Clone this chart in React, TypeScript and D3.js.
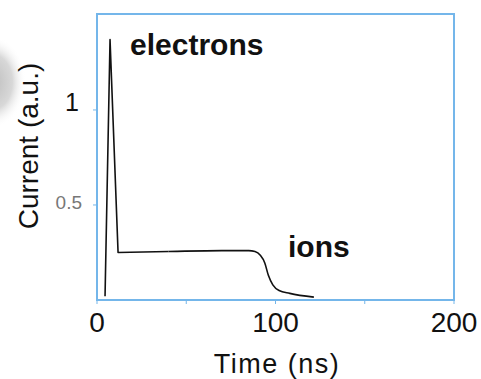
import React from "react";
import { scaleLinear, line, curveMonotoneX } from "d3";

const times = [4.5, 7.3, 11.8, 40, 70, 85, 88.5, 91.5, 94, 96, 98.5, 102, 108, 121.5];
const currents = [0.02, 1.37, 0.25, 0.255, 0.26, 0.26, 0.255, 0.235, 0.195, 0.13, 0.08, 0.05, 0.035, 0.015];
const xTicks = [0, 100, 200];
const xMinorTicks = [0, 50, 100, 150, 200];
const yTicks = [1, 0.5];

const W = 481;
const H = 379;
const margin = { left: 97, top: 14, right: 27, bottom: 79 };
const frameColor = "#74b6ea";
const font = "Liberation Sans, Arial, Helvetica, sans-serif";

export default function App() {
  const x = scaleLinear().domain([0, 200]).range([margin.left, W - margin.right]);
  const y = scaleLinear().domain([0, 1.505]).range([H - margin.bottom, margin.top]);

  const pts = times.map((t, i) => [t, currents[i]] as [number, number]);
  // sharp pulse, then smooth ion tail
  const spike = line<[number, number]>().x(d => x(d[0])).y(d => y(d[1]));
  const tail = line<[number, number]>().x(d => x(d[0])).y(d => y(d[1])).curve(curveMonotoneX);

  return (
    <svg width={W} height={H} style={{ position: "fixed", left: 0, top: 0, background: "#fff" }}>
      <defs>
        <radialGradient id="blob">
          <stop offset="0%" stopColor="#bdbdbd" />
          <stop offset="60%" stopColor="#d8d8d8" />
          <stop offset="100%" stopColor="#fff" stopOpacity={0} />
        </radialGradient>
      </defs>
      <ellipse cx={-8} cy={82} rx={34} ry={46} fill="url(#blob)" />

      {/* frame */}
      <rect
        x={x(0)}
        y={margin.top}
        width={x(200) - x(0)}
        height={y(0) - margin.top}
        fill="none"
        stroke={frameColor}
        strokeWidth={2}
      />
      {xMinorTicks.map(t => (
        <line key={t} x1={x(t)} x2={x(t)} y1={y(0)} y2={y(0) + 4} stroke={frameColor} strokeWidth={1} />
      ))}
      {yTicks.map(t => (
        <line key={t} x1={x(0) - 4} x2={x(0)} y1={y(t)} y2={y(t)} stroke={frameColor} strokeWidth={1} />
      ))}

      {/* x tick labels */}
      {xTicks.map(t => (
        <text key={t} x={x(t)} y={y(0) + 32} textAnchor="middle" fontFamily={font} fontSize={28} fill="#111">
          {t}
        </text>
      ))}
      {/* y tick labels */}
      <text x={79} y={y(1) + 1} textAnchor="end" fontFamily={font} fontSize={25} fill="#111">
        1
      </text>
      <text x={82} y={y(0.5) + 4} textAnchor="end" fontFamily={font} fontSize={19} fill="#777">
        0.5
      </text>

      <text x={277} y={373} textAnchor="middle" fontFamily={font} fontSize={27} fill="#111" letterSpacing={1.5}>
        Time (ns)
      </text>
      <text
        transform={`translate(38,146) rotate(-90)`}
        textAnchor="middle"
        fontFamily={font}
        fontSize={28}
        fill="#111"
      >
        Current (a.u.)
      </text>

      <path d={spike(pts.slice(0, 4)) ?? ""} fill="none" stroke="#111" strokeWidth={1.6} strokeLinejoin="round" />
      <path d={tail(pts.slice(3)) ?? ""} fill="none" stroke="#111" strokeWidth={1.6} />

      <text x={130} y={55} fontFamily={font} fontSize={30} fontWeight="bold" fill="#111">
        electrons
      </text>
      <text x={288} y={257} fontFamily={font} fontSize={30} fontWeight="bold" fill="#111">
        ions
      </text>
    </svg>
  );
}
